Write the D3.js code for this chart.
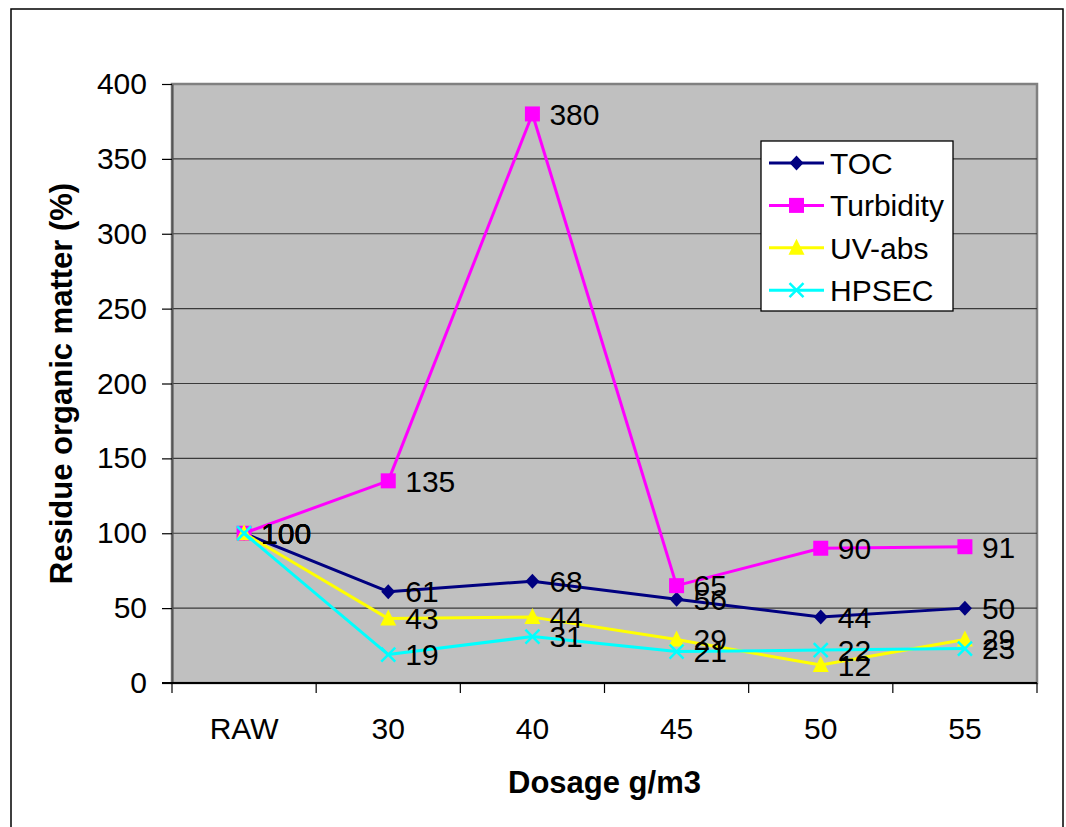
<!DOCTYPE html>
<html>
<head>
<meta charset="utf-8">
<script src="https://cdn.jsdelivr.net/npm/d3@7"></script>
<style>
  html, body { margin: 0; padding: 0; background: #fff; }
  svg { display: block; }
  text { font-family: "Liberation Sans", Arial, sans-serif; fill: #000; }
</style>
</head>
<body>
<svg id="chart" width="1066" height="827"></svg>
<script>
// Dosage categories and residue percentages per measurement
const categories = ["RAW", "30", "40", "45", "50", "55"];
const tocValues = [100, 61, 68, 56, 44, 50];
const turbidityValues = [100, 135, 380, 65, 90, 91];
const uvAbsValues = [100, 43, 44, 29, 12, 29];
const hpsecValues = [100, 19, 31, 21, 22, 23];
const yTicks = [0, 50, 100, 150, 200, 250, 300, 350, 400];

const seriesList = [
  { name: "TOC", values: tocValues, color: "#000080", marker: "diamond" },
  { name: "Turbidity", values: turbidityValues, color: "#FF00FF", marker: "square" },
  { name: "UV-abs", values: uvAbsValues, color: "#FFFF00", marker: "triangle" },
  { name: "HPSEC", values: hpsecValues, color: "#00FFFF", marker: "cross" }
];

const svg = d3.select("#chart");
const plot = { left: 172, right: 1037, top: 84, bottom: 683 };

const x = d3.scaleBand().domain(categories).range([plot.left, plot.right]).padding(0);
const y = d3.scaleLinear().domain([0, 400]).range([plot.bottom, plot.top]);
const cx = c => x(c) + x.bandwidth() / 2;

// Outer chart frame
svg.append("rect")
  .attr("x", 11).attr("y", 9).attr("width", 1052).attr("height", 840)
  .attr("fill", "#fff").attr("stroke", "#000").attr("stroke-width", 1.5);

// Plot background
svg.append("rect")
  .attr("x", plot.left).attr("y", plot.top)
  .attr("width", plot.right - plot.left).attr("height", plot.bottom - plot.top)
  .attr("fill", "#C0C0C0").attr("stroke", "#808080").attr("stroke-width", 2.5);

// Horizontal gridlines
svg.append("g").selectAll("line")
  .data(yTicks.filter(t => t > 0 && t < 400))
  .join("line")
  .attr("x1", plot.left).attr("x2", plot.right)
  .attr("y1", d => y(d)).attr("y2", d => y(d))
  .attr("stroke", "#3a3a3a").attr("stroke-width", 1.2);

// Y axis
const yAxis = svg.append("g")
  .attr("transform", `translate(${plot.left},0)`)
  .call(d3.axisLeft(y).tickValues(yTicks).tickSize(10).tickSizeOuter(0).tickPadding(15));
yAxis.select(".domain").attr("stroke", "#555").attr("stroke-width", 2);
yAxis.selectAll(".tick line").attr("stroke", "#000").attr("stroke-width", 1.2);
yAxis.selectAll(".tick text")
  .style("font-family", "'Liberation Sans', Arial, sans-serif")
  .style("font-size", "30px").attr("fill", "#000");

// X axis: labels centred in bands, ticks on band boundaries
const xAxis = svg.append("g")
  .attr("transform", `translate(0,${plot.bottom})`)
  .call(d3.axisBottom(x).tickSize(0).tickPadding(35));
xAxis.select(".domain").remove();
xAxis.selectAll(".tick text")
  .style("font-family", "'Liberation Sans', Arial, sans-serif")
  .style("font-size", "30px").attr("fill", "#000");

svg.append("line")
  .attr("x1", plot.left - 10).attr("x2", plot.right)
  .attr("y1", plot.bottom).attr("y2", plot.bottom)
  .attr("stroke", "#000").attr("stroke-width", 2);

const boundaries = categories.map(c => x(c)).concat([x(categories[categories.length - 1]) + x.bandwidth()]);
svg.append("g").selectAll("line")
  .data(boundaries)
  .join("line")
  .attr("x1", d => d).attr("x2", d => d)
  .attr("y1", plot.bottom).attr("y2", plot.bottom + 10)
  .attr("stroke", "#000").attr("stroke-width", 1.2);

// Axis titles
svg.append("text")
  .attr("x", (plot.left + plot.right) / 2).attr("y", 793)
  .attr("text-anchor", "middle")
  .style("font-size", "31px").style("font-weight", "bold")
  .text("Dosage g/m3");

svg.append("text")
  .attr("transform", `translate(72,${(plot.top + plot.bottom) / 2}) rotate(-90)`)
  .attr("text-anchor", "middle")
  .style("font-size", "31px").style("font-weight", "bold")
  .text("Residue organic matter (%)");

// Marker shapes
function drawMarker(sel, type, color, px, py) {
  if (type === "diamond") {
    sel.append("path")
      .attr("d", `M${px},${py - 7.5}L${px + 7},${py}L${px},${py + 7.5}L${px - 7},${py}Z`)
      .attr("fill", color);
  } else if (type === "square") {
    sel.append("rect")
      .attr("x", px - 7.5).attr("y", py - 7.5).attr("width", 15).attr("height", 15)
      .attr("fill", color);
  } else if (type === "triangle") {
    sel.append("path")
      .attr("d", `M${px},${py - 9}L${px + 8},${py + 7}L${px - 8},${py + 7}Z`)
      .attr("fill", color);
  } else if (type === "cross") {
    sel.append("path")
      .attr("d", `M${px - 7},${py - 7}L${px + 7},${py + 7}M${px + 7},${py - 7}L${px - 7},${py + 7}`)
      .attr("stroke", color).attr("stroke-width", 2.5).attr("fill", "none");
  }
}

const line = d3.line().x(d => cx(d.cat)).y(d => y(d.value));

seriesList.forEach(s => {
  const pts = categories.map((c, i) => ({ cat: c, value: s.values[i] }));
  const g = svg.append("g");
  g.append("path")
    .datum(pts)
    .attr("d", line)
    .attr("fill", "none")
    .attr("stroke", s.color)
    .attr("stroke-width", 3)
    .attr("stroke-linejoin", "round");
  pts.forEach(p => drawMarker(g, s.marker, s.color, cx(p.cat), y(p.value)));
});

// Value labels beside each point
seriesList.forEach(s => {
  svg.append("g").selectAll("text")
    .data(categories.map((c, i) => ({ cat: c, value: s.values[i] })))
    .join("text")
    .attr("x", d => cx(d.cat) + 17)
    .attr("y", d => y(d.value))
    .attr("dy", "0.36em")
    .style("font-size", "30px")
    .text(d => d.value);
});

// Legend
const legend = svg.append("g");
legend.append("rect")
  .attr("x", 761).attr("y", 141).attr("width", 192).attr("height", 170)
  .attr("fill", "#fff").attr("stroke", "#000").attr("stroke-width", 1.3);

seriesList.forEach((s, i) => {
  const ly = 163 + i * 42.4;
  legend.append("line")
    .attr("x1", 769).attr("x2", 824).attr("y1", ly).attr("y2", ly)
    .attr("stroke", s.color).attr("stroke-width", 3);
  drawMarker(legend, s.marker, s.color, 796.5, ly);
  legend.append("text")
    .attr("x", 830).attr("y", ly).attr("dy", "0.36em")
    .style("font-size", "30px")
    .text(s.name);
});
</script>
</body>
</html>
